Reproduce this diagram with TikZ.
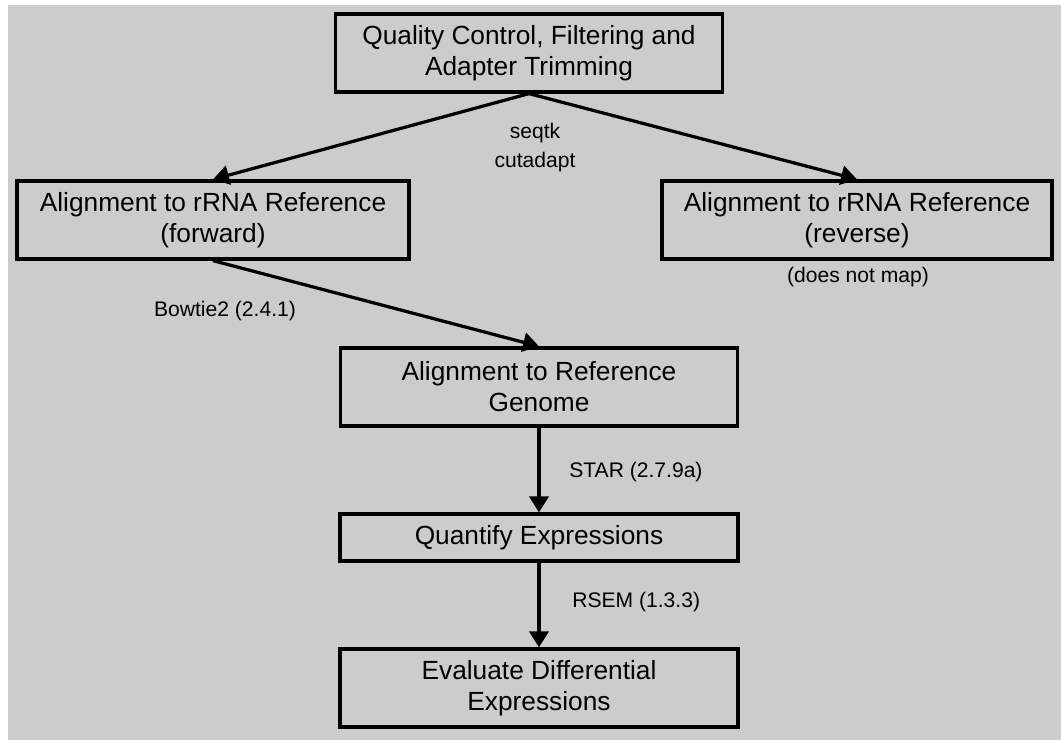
\documentclass[tikz,border=0pt]{standalone}
\usepackage{fontspec}
\setmainfont{Liberation Sans}
\usepackage{xcolor}
\usepackage{tikz}
\usetikzlibrary{arrows.meta,positioning}
\definecolor{backdrop}{HTML}{CCCCCC}
\definecolor{ink}{HTML}{000000}

\begin{document}
\begin{tikzpicture}[x=0.025cm,y=-0.025cm,>={Triangle[length=4mm,width=4.8mm]},
  stage/.style={draw=ink,line width=2.3pt,inner sep=0pt,align=center,text=ink,
    minimum height=1.95cm,font=\fontsize{18.7}{22}\selectfont},
  tool/.style={align=center,text=ink,inner sep=0pt,font=\fontsize{15}{20.6}\selectfont},
  flow/.style={->,line width=2.3pt,draw=ink}]
\useasboundingbox (0,0) rectangle (1061,740);
\fill[white] (0,0) rectangle (1061,740);
\fill[backdrop] (8,5) rectangle (1061,740);
\node[stage,minimum width=9.675cm] (qc) at (529,53) {Quality Control, Filtering and\\Adapter Trimming};
\node[stage,minimum width=9.8cm] (fwd) at (213,220) {Alignment to rRNA Reference\\(forward)};
\node[stage,minimum width=9.75cm] (rev) at (857,220) {Alignment to rRNA Reference\\(reverse)};
\node[stage,minimum width=9.925cm] (genome) at (539,387) {Alignment to Reference\\Genome};
\node[stage,minimum width=9.95cm,minimum height=1.175cm] (quant) at (539,537.5) {Quantify Expressions};
\node[stage,minimum width=9.95cm] (diffexp) at (539,688) {Evaluate Differential\\Expressions};
\node[tool] (trim) at (535,148) {seqtk\\cutadapt};
\node[tool] (bowtie) at (225,311) {Bowtie2 (2.4.1)};
\node[tool] (nomap) at (858,277) {(does not map)};
\node[tool,anchor=west] (star) at (569,472) {STAR (2.7.9a)};
\node[tool,anchor=west] (rsem) at (572,602) {RSEM (1.3.3)};
\draw[flow] (qc.south) -- (fwd.north);
\draw[flow] (qc.south) -- (rev.north);
\draw[flow] (fwd.south) -- (genome.north);
\draw[flow] (genome.south) -- (quant.north);
\draw[flow] (quant.south) -- (diffexp.north);
\end{tikzpicture}
\end{document}
